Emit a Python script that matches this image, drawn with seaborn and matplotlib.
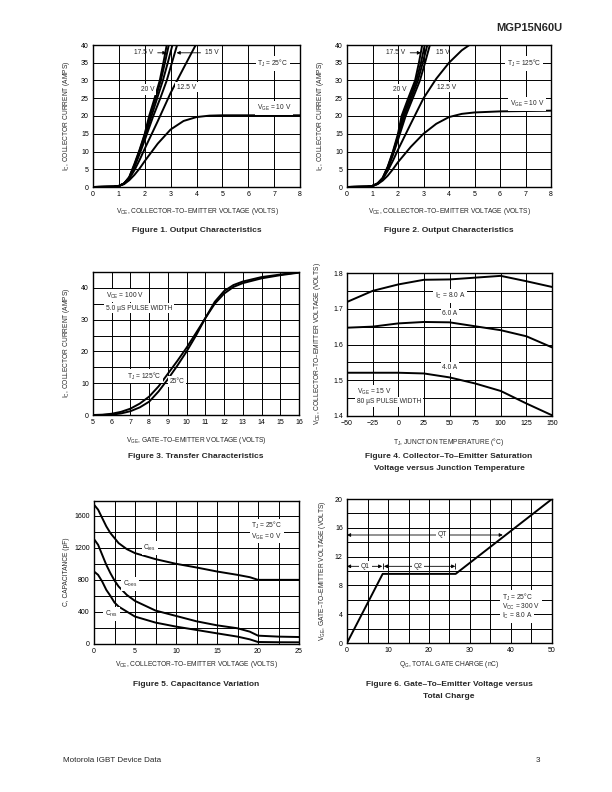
import numpy as np
import pandas as pd
import seaborn as sns
import matplotlib.pyplot as plt
from matplotlib.ticker import MultipleLocator

sns.set_style("white")
plt.rcParams['font.family'] = ['Liberation Sans', 'DejaVu Sans']
plt.rcParams['mathtext.default'] = 'regular'

W, H = 612, 792

# ---- Figure 1 : output characteristics, TJ = 25C
f1_x20 = [0, 0.8, 1.0, 1.2, 1.4, 1.6, 1.8, 2.0, 2.17, 2.38, 2.58, 2.72, 2.85]
f1_y20 = [0, 0.1, 0.3, 1.0, 2.8, 6.5, 10.5, 15.0, 20, 25, 30, 35, 40]
f1_x175 = [0, 0.8, 1.0, 1.2, 1.4, 1.6, 1.8, 2.0, 2.2, 2.42, 2.62, 2.78, 2.93]
f1_y175 = [0, 0.1, 0.3, 1.0, 2.7, 6.2, 10.2, 14.7, 20, 25, 30, 35, 40]
f1_x16 = [0, 0.8, 1.0, 1.2, 1.4, 1.6, 1.8, 2.0, 2.26, 2.48, 2.7, 2.89, 3.07]
f1_y16 = [0, 0.1, 0.3, 1.0, 2.6, 5.9, 9.8, 14.0, 20, 25, 30, 35, 40]
f1_x15 = [0, 0.8, 1.0, 1.2, 1.4, 1.6, 1.8, 2.0, 2.33, 2.6, 2.85, 3.05, 3.25]
f1_y15 = [0, 0.1, 0.3, 1.0, 2.5, 5.6, 9.3, 13.2, 20, 25, 30, 35, 40]
f1_x125 = [0, 0.8, 1.0, 1.2, 1.4, 1.6, 1.8, 2.0, 2.5, 3.0, 3.5, 3.97]
f1_y125 = [0, 0.1, 0.3, 0.9, 2.3, 4.7, 7.6, 10.8, 18.5, 26.5, 33.5, 40]
f1_x10 = [0, 0.8, 1.0, 1.2, 1.4, 1.6, 1.8, 2.0, 2.5, 3.0, 3.5, 4.0, 4.5, 5.0, 6.0, 7.0, 8.0]
f1_y10 = [0, 0.1, 0.3, 0.8, 1.9, 3.4, 5.2, 7.3, 12.2, 16.2, 18.6, 19.7, 20.1, 20.2, 20.2, 20.2, 20.2]

# ---- Figure 2 : output characteristics, TJ = 125C
f2_x20 = [0, 0.8, 1.0, 1.2, 1.4, 1.6, 1.8, 2.0, 2.14, 2.4, 2.67, 2.82, 2.95]
f2_y20 = [0, 0.1, 0.3, 1.0, 2.6, 5.8, 10.0, 15.0, 20, 25, 30, 35, 40]
f2_x175 = [0, 0.8, 1.0, 1.2, 1.4, 1.6, 1.8, 2.0, 2.19, 2.46, 2.72, 2.9, 3.05]
f2_y175 = [0, 0.1, 0.3, 1.0, 2.5, 5.6, 9.7, 14.4, 20, 25, 30, 35, 40]
f2_x16 = [0, 0.8, 1.0, 1.2, 1.4, 1.6, 1.8, 2.0, 2.24, 2.52, 2.78, 2.97, 3.15]
f2_y16 = [0, 0.1, 0.3, 1.0, 2.4, 5.4, 9.4, 13.9, 20, 25, 30, 35, 40]
f2_x15 = [0, 0.8, 1.0, 1.2, 1.4, 1.6, 1.8, 2.0, 2.3, 2.58, 2.86, 3.06, 3.25]
f2_y15 = [0, 0.1, 0.3, 1.0, 2.3, 5.1, 9.0, 13.3, 20, 25, 30, 35, 40]
f2_x125 = [0, 0.8, 1.0, 1.2, 1.4, 1.6, 1.8, 2.0, 2.5, 3.0, 3.5, 4.0, 4.5, 4.8]
f2_y125 = [0, 0.1, 0.3, 0.9, 2.3, 4.6, 7.4, 10.5, 17.8, 25.0, 30.5, 35.0, 38.5, 40]
f2_x10 = [0, 0.8, 1.0, 1.2, 1.4, 1.6, 1.8, 2.0, 2.5, 3.0, 3.5, 4.0, 4.5, 5.0, 6.0, 7.0, 8.0]
f2_y10 = [0, 0.1, 0.3, 0.8, 1.8, 3.2, 5.0, 7.0, 11.3, 15.0, 17.8, 19.7, 20.6, 21.0, 21.3, 21.4, 21.5]

# ---- Figure 3 : transfer characteristics
f3_vge = [5, 5.5, 6, 6.5, 7, 7.5, 8, 8.5, 9, 9.5, 10, 10.5, 11, 11.5, 12, 12.5, 13, 14, 15, 16]
f3_ic125 = [0, 0.1, 0.4, 1.0, 2.0, 3.6, 5.8, 9.0, 13.0, 17.0, 21.2, 25.8, 30.5, 35.0, 38.2, 40.3, 41.5, 43.0, 44.0, 44.8]
f3_ic25 = [0, 0, 0.1, 0.5, 1.2, 2.4, 4.2, 7.4, 11.3, 15.5, 20.0, 25.0, 30.5, 35.6, 39.0, 40.9, 42.0, 43.4, 44.2, 44.9]

# ---- Figure 4 : VCE(sat) vs junction temperature
f4_tj = [-50, -25, 0, 25, 50, 75, 100, 125, 150]
f4_8a = [1.719, 1.750, 1.768, 1.781, 1.782, 1.787, 1.792, 1.777, 1.761]
f4_6a = [1.647, 1.650, 1.659, 1.663, 1.662, 1.651, 1.640, 1.623, 1.592]
f4_4a = [1.521, 1.521, 1.521, 1.519, 1.508, 1.491, 1.470, 1.435, 1.402]

# ---- Figure 5 : capacitance variation
f5_vce = [0, 0.5, 1, 1.5, 2, 2.5, 3, 4, 5, 7.5, 10, 12.5, 15, 17.5, 19, 20, 22.5, 25]
f5_cies = [1737, 1675, 1571, 1467, 1383, 1321, 1258, 1183, 1133, 1058, 1000, 954, 904, 862, 833, 800, 800, 800]
f5_coes = [1308, 1237, 1112, 987, 883, 792, 717, 612, 537, 417, 350, 283, 233, 196, 154, 104, 92, 87]
f5_cres = [904, 862, 779, 675, 600, 517, 467, 404, 342, 267, 217, 175, 133, 92, 58, 25, 22, 21]

# ---- Figure 6 : gate charge
f6_qg = [0, 8.7, 26.5, 50]
f6_vge = [0, 9.6, 9.6, 20]

fig = plt.figure(figsize=(W / 100, H / 100), dpi=100)

tsize = 4.8
capsize = 6.0


def box(l, t, r, b):
    return fig.add_axes([l / W, 1 - b / H, (r - l) / W, (b - t) / H])


def px(x, y, s, **kw):
    kw.setdefault('ha', 'center')
    kw.setdefault('va', 'center')
    fig.text(x / W, 1 - y / H, s, **kw)


def style(ax, xlim, ylim, xmaj, xmin, ymaj, ymin):
    ax.set_xlim(*xlim)
    ax.set_ylim(*ylim)
    ax.xaxis.set_major_locator(MultipleLocator(xmaj))
    ax.xaxis.set_minor_locator(MultipleLocator(xmin))
    ax.yaxis.set_major_locator(MultipleLocator(ymaj))
    ax.yaxis.set_minor_locator(MultipleLocator(ymin))
    ax.grid(which='both', color='black', lw=0.7)
    ax.set_axisbelow(True)
    ax.tick_params(which='both', length=0, labelsize=5.0, pad=3, colors='black')
    for s in ax.spines.values():
        s.set_linewidth(1.0)
        s.set_color('black')
    ax.set_xlabel('')
    ax.set_ylabel('')


def curve(ax, x, y):
    sns.lineplot(x=x, y=y, ax=ax, color='black', lw=1.4, sort=False,
                 estimator=None, legend=False)


def note(ax, x, y, s, **kw):
    kw.setdefault('ha', 'center')
    kw.setdefault('va', 'center')
    ax.text(x, y, s, fontsize=tsize, zorder=5,
            bbox=dict(facecolor='white', edgecolor='none', pad=1.2), **kw)


arrow = dict(arrowstyle='-|>', lw=0.6, color='black', mutation_scale=5,
             shrinkA=1, shrinkB=0)

# Figure 1
ax1 = box(93, 45, 300, 187)
for x, y in [(f1_x20, f1_y20), (f1_x175, f1_y175), (f1_x16, f1_y16),
             (f1_x15, f1_y15), (f1_x125, f1_y125), (f1_x10, f1_y10)]:
    curve(ax1, x, y)
style(ax1, (0, 8), (0, 40), 1, 1, 5, 5)
ax1.annotate('17.5 V', xy=(2.84, 37.8), xytext=(1.95, 37.8), fontsize=tsize,
             ha='center', va='center', arrowprops=arrow)
ax1.annotate('15 V', xy=(3.23, 37.8), xytext=(4.6, 37.8), fontsize=tsize,
             ha='center', va='center', arrowprops=arrow)
note(ax1, 2.1, 27.5, '20 V')
note(ax1, 3.62, 28.1, '12.5 V')
note(ax1, 6.95, 34.8, 'T$_J$ = 25°C')
note(ax1, 7.0, 22.2, 'V$_{GE}$ = 10 V')

# Figure 2
ax2 = box(347, 45, 551, 187)
for x, y in [(f2_x20, f2_y20), (f2_x175, f2_y175), (f2_x16, f2_y16),
             (f2_x15, f2_y15), (f2_x125, f2_y125), (f2_x10, f2_y10)]:
    curve(ax2, x, y)
style(ax2, (0, 8), (0, 40), 1, 1, 5, 5)
ax2.annotate('17.5 V', xy=(2.9, 37.8), xytext=(1.92, 37.8), fontsize=tsize,
             ha='center', va='center', arrowprops=arrow)
ax2.text(3.75, 37.8, '15 V', fontsize=tsize, ha='center', va='center')
note(ax2, 2.08, 27.5, '20 V')
note(ax2, 3.92, 28.1, '12.5 V')
note(ax2, 6.95, 34.8, 'T$_J$ = 125°C')
note(ax2, 7.05, 23.4, 'V$_{GE}$ = 10 V')

# Figure 3
ax3 = box(93, 272, 299, 415)
curve(ax3, f3_vge, f3_ic125)
curve(ax3, f3_vge, f3_ic25)
style(ax3, (5, 16), (0, 45), 1, 1, 10, 5)
note(ax3, 5.7, 37.6, 'V$_{CE}$ = 100 V', ha='left')
note(ax3, 5.7, 33.6, '5.0 µS PULSE WIDTH', ha='left')
note(ax3, 7.72, 12.3, 'T$_J$ = 125°C')
note(ax3, 9.5, 10.5, '25°C')

# Figure 4
ax4 = box(347, 273, 552, 416)
for y in [f4_8a, f4_6a, f4_4a]:
    curve(ax4, f4_tj, y)
style(ax4, (-50, 150), (1.4, 1.8), 25, 25, 0.1, 0.05)
note(ax4, 50.5, 1.736, 'I$_C$ = 8.0 A')
note(ax4, 50.5, 1.687, '6.0 A')
note(ax4, 50.5, 1.536, '4.0 A')
note(ax4, -40.5, 1.467, 'V$_{GE}$ = 15 V', ha='left')
note(ax4, -40.5, 1.440, '80 µS PULSE WIDTH', ha='left')

# Figure 5
ax5 = box(94, 501, 299, 644)
for y in [f5_cies, f5_coes, f5_cres]:
    curve(ax5, f5_vce, y)
style(ax5, (0, 25), (0, 1783), 5, 2.5, 400, 200)
note(ax5, 6.8, 1197, 'C$_{ies}$')
note(ax5, 4.4, 750, 'C$_{oes}$')
note(ax5, 2.15, 375, 'C$_{res}$')
note(ax5, 21.05, 1474, 'T$_J$ = 25°C')
note(ax5, 21.05, 1341, 'V$_{GE}$ = 0 V')

# Figure 6
ax6 = box(347, 499, 552, 643)
curve(ax6, f6_qg, f6_vge)
style(ax6, (0, 50), (0, 20), 10, 5, 4, 2)
darrow = dict(arrowstyle='<|-|>', lw=0.6, color='black', mutation_scale=5,
              shrinkA=0, shrinkB=0)
ax6.annotate('', xy=(0, 15.0), xytext=(38.0, 15.0), arrowprops=darrow)
ax6.annotate('', xy=(0, 10.65), xytext=(8.6, 10.65), arrowprops=darrow)
ax6.annotate('', xy=(9.0, 10.65), xytext=(26.4, 10.65), arrowprops=darrow)
ax6.vlines([8.8, 26.4], 10.25, 11.05, color='black', lw=0.6)
note(ax6, 23.3, 15.0, 'QT')
note(ax6, 4.5, 10.65, 'Q1')
note(ax6, 17.3, 10.65, 'Q2')
note(ax6, 37.8, 6.35, 'T$_J$ = 25°C', ha='left')
note(ax6, 37.8, 5.0, 'V$_{CC}$ = 300 V', ha='left')
note(ax6, 37.8, 3.7, 'I$_C$ = 8.0 A', ha='left')

# axis titles
vce = 'V$_{CE}$, COLLECTOR–TO–EMITTER VOLTAGE (VOLTS)'
ic = 'I$_C$, COLLECTOR CURRENT (AMPS)'
px(197, 211.7, vce, fontsize=tsize)
px(449, 211.7, vce, fontsize=tsize)
px(196, 440, 'V$_{GE}$, GATE–TO–EMITTER VOLTAGE (VOLTS)', fontsize=tsize)
px(449, 441.7, 'T$_J$, JUNCTION TEMPERATURE (°C)', fontsize=tsize)
px(196, 664, vce, fontsize=tsize)
px(449, 664, 'Q$_G$, TOTAL GATE CHARGE (nC)', fontsize=tsize)

px(67, 116, ic, fontsize=tsize, rotation=90)
px(320, 116, ic, fontsize=tsize, rotation=90)
px(67, 343, ic, fontsize=tsize, rotation=90)
px(317, 344, 'V$_{CE}$, COLLECTOR–TO–EMITTER VOLTAGE (VOLTS)', fontsize=tsize, rotation=90)
px(67, 572, 'C, CAPACITANCE (pF)', fontsize=tsize, rotation=90)
px(322, 571, 'V$_{GE}$, GATE–TO–EMITTER VOLTAGE (VOLTS)', fontsize=tsize, rotation=90)

# captions
px(197, 230, 'Figure 1. Output Characteristics', fontsize=capsize, weight='bold')
px(449, 230, 'Figure 2. Output Characteristics', fontsize=capsize, weight='bold')
px(196, 457, 'Figure 3. Transfer Characteristics', fontsize=capsize, weight='bold')
px(449, 457, 'Figure 4. Collector–To–Emitter Saturation', fontsize=capsize, weight='bold')
px(449, 469, 'Voltage versus Junction Temperature', fontsize=capsize, weight='bold')
px(196, 685, 'Figure 5. Capacitance Variation', fontsize=capsize, weight='bold')
px(449, 685, 'Figure 6. Gate–To–Emitter Voltage versus', fontsize=capsize, weight='bold')
px(449, 696, 'Total Charge', fontsize=capsize, weight='bold')

# page header / footer
px(562, 28, 'MGP15N60U', fontsize=8, weight='bold', ha='right')
px(63, 760, 'Motorola IGBT Device Data', fontsize=5.8, ha='left')
px(540, 760, '3', fontsize=5.8, ha='right')

fig.savefig('out.png', dpi=100)
